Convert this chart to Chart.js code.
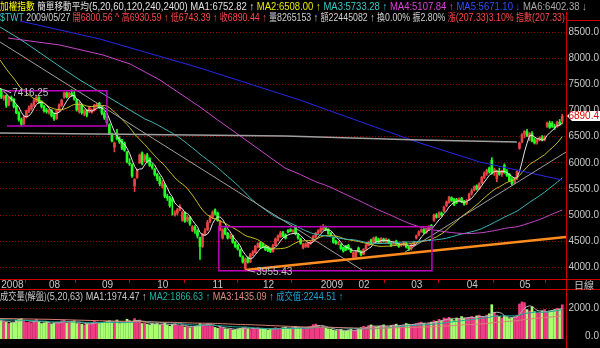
<!DOCTYPE html>
<html><head><meta charset="utf-8">
<script src="https://cdn.jsdelivr.net/npm/chart.js@4"></script>
<style>
html,body{margin:0;padding:0;background:#000;}
#wrap{position:relative;width:600px;height:348px;overflow:hidden;background:#000;}
canvas{position:absolute;left:0;}
.t{position:absolute;white-space:nowrap;font-family:'Liberation Sans Narrow','Liberation Sans','Noto Sans CJK TC',sans-serif;font-size:11px;line-height:11px;z-index:2;transform-origin:0 50%;}
.c{font-family:'Noto Sans CJK TC',sans-serif;font-size:10px;}
</style></head><body>
<div id="wrap">
<canvas id="main" width="600" height="290" style="top:0"></canvas>
<canvas id="vol" width="600" height="58" style="top:290px"></canvas>
<div class="t" id="h1" style="left:0;top:0px"><span class="c" style="color:#ffff00">加權指數</span> <span style="color:#e0e0e0"><span class="c">簡單移動平均</span>(5,20,60,120,240,2400)</span> <span style="color:#e0e0e0">MA1:6752.82 ↑</span> <span style="color:#e8e800">MA2:6508.00 ↑</span> <span style="color:#3cc8c8">MA3:5733.28 ↑</span> <span style="color:#e040e0">MA4:5107.84 ↑</span> <span style="color:#3050ff">MA5:5671.10 ↓</span> <span style="color:#a8a8a8">MA6:6402.38 ↓</span></div>
<div class="t" id="h2" style="left:0;top:11px"><span style="color:#3cc8c8">$TWT</span> <span style="color:#d0d0d0">2009/05/27</span> <span style="color:#ff4848"><span class="c">開</span>6800.56 ^ <span class="c">高</span>6930.59 ↑ <span class="c">低</span>6743.39 ↑ <span class="c">收</span>6890.44 ↑</span> <span style="color:#d0d0d0"><span class="c">量</span>8265153 ↑ <span class="c">額</span>22445082 ↑ <span class="c">換</span>0.00% <span class="c">振</span>2.80%</span> <span style="color:#ff4848"><span class="c">漲</span>(207.33)3.10% <span class="c">指數</span>(207.33)</span></div>
<div class="t" id="h3" style="left:0;top:290px"><span style="color:#c8c8c8"><span class="c">成交量(解盤)</span>(5,20,63)</span> <span style="color:#c8c8c8">MA1:1974.47 ↑</span> <span style="color:#20b0a0">MA2:1866.63 ↑</span> <span style="color:#e08878">MA3:1435.09 ↑</span> <span style="color:#20a0d0"><span class="c">成交值</span>:2244.51 ↑</span></div>
<div class="t" style="left:574px;top:279px;color:#c8c8c8"><span class="c">日線</span></div>
</div>
<script>
// ---- tick labels (month starts, by bar index) ----
const monthLabels = ['2008','08','09','10','11','12','2009','02','03','04','05'];
const monthStarts = [0,19,40,62,84,104,127,142,163,185,206];
const priceTicks = [4000,4500,5000,5500,6000,6500,7000,7500,8000,8500];
const volTicks = [0,2000];

// ---- daily OHLC (2008/07 .. 2009/05/27) ----
const opens = [
7410,7240,7290,7110,7250,7220,7090,6960,6830,6750,6880,6990,7040,7100,7180,7250,7170,7080,7010,
6960,7000,6910,6850,7000,7100,7260,7340,7270,7330,7300,7200,6980,7100,6940,7000,6980,6970,7010,7090,7140,
7060,6950,6840,6730,6550,6300,6560,6460,6420,6380,6200,6000,5960,5560,5720,6000,6190,6050,6150,6080,5950,5880,
5780,5700,5560,5580,5360,5330,5300,5000,5040,5100,4900,5040,4900,4950,4700,4770,4700,4560,4400,4650,4720,4880,
4960,5100,5040,4720,4560,4740,4650,4580,4600,4480,4420,4330,4200,3980,4180,4100,4240,4280,4390,4470,
4440,4400,4380,4350,4300,4420,4520,4580,4660,4620,4700,4720,4690,4780,4620,4540,4370,4400,4390,4460,4500,4580,4660,
4690,4720,4770,4720,4650,4560,4500,4460,4440,4380,4400,4420,4350,4200,4200,
4370,4300,4250,4350,4420,4520,4480,4560,4540,4480,4540,4480,4520,4460,4440,4500,4450,4420,4420,4460,4380,
4360,4420,4560,4620,4690,4720,4670,4720,4800,4900,5000,4960,5040,5080,5180,5240,5330,5300,5300,5260,5320,5260,
5220,5290,5420,5480,5560,5500,5620,5720,5800,5900,6050,5820,5700,5840,5780,5950,5830,5780,5680,5620,5700,
6280,6400,6550,6600,6500,6560,6440,6400,6440,6480,6440,6700,6760,6760,6700,6690,6780,6800.56];
const highs = [
7416.25,7300,7300,7270,7280,7230,7110,6980,6860,6900,7010,7090,7140,7220,7290,7270,7190,7100,7040,
7030,7020,6960,7020,7130,7220,7360,7360,7350,7400,7380,7220,7170,7130,7020,7020,7080,7030,7120,7140,7160,
7080,6980,6880,6750,6570,6400,6640,6500,6450,6400,6220,6080,5980,5700,5880,6170,6210,6160,6180,6100,5980,5900,
5800,5740,5660,5600,5400,5360,5340,5080,5130,5200,5080,5060,4990,4970,4800,4800,4720,4580,4650,4740,4900,5000,
5080,5120,5060,4900,4740,4760,4670,4630,4610,4500,4440,4350,4220,4180,4200,4270,4320,4420,4470,4490,
4470,4420,4400,4360,4440,4560,4620,4690,4690,4640,4720,4740,4720,4800,4640,4560,4460,4470,4480,4500,4610,4670,4720,
4790,4820,4790,4740,4670,4580,4520,4500,4450,4390,4420,4440,4370,4300,4320,
4390,4320,4360,4440,4500,4540,4580,4590,4560,4570,4560,4560,4540,4480,4500,4520,4460,4460,4490,4480,4400,
4440,4500,4620,4700,4740,4740,4740,4800,4820,5020,5030,5060,5060,5170,5270,5360,5350,5320,5320,5330,5340,5280,
5300,5420,5500,5560,5580,5620,5740,5830,5880,5920,6100,5900,5860,5900,5860,5980,5870,5800,5720,5720,5850,
6400,6560,6620,6640,6580,6600,6480,6460,6500,6520,6520,6780,6800,6790,6740,6800,6830,6930.59];
const lows = [
7230,7200,7060,7090,7180,7050,6940,6800,6710,6730,6860,6960,7010,7080,7160,7140,7050,6970,6950,
6930,6880,6810,6830,6980,7080,7240,7240,7250,7270,7200,6990,6950,6930,6900,6880,6960,6950,6990,7060,7040,
6920,6830,6740,6540,6400,6210,6440,6370,6250,6220,6000,5950,5720,5450,5700,5990,5960,6020,6000,5930,5880,5750,
5660,5560,5520,5330,5280,5150,5000,4980,5000,5080,4880,4860,4870,4800,4680,4650,4560,4150,4380,4620,4700,4850,
4930,5000,4880,4700,4540,4620,4540,4550,4460,4380,4330,4200,4080,3955.43,4080,4090,4220,4270,4370,4360,
4370,4320,4300,4280,4290,4410,4500,4570,4580,4540,4660,4680,4670,4620,4540,4440,4350,4380,4380,4440,4490,4560,4640,
4670,4710,4700,4630,4600,4460,4440,4430,4340,4290,4320,4340,4280,4180,4190,
4290,4220,4240,4340,4410,4440,4470,4480,4460,4470,4480,4470,4450,4400,4430,4430,4380,4400,4410,4370,4320,
4330,4400,4540,4600,4670,4640,4650,4700,4740,4880,4940,4950,4980,5060,5160,5230,5260,5180,5220,5250,5240,5190,
5200,5280,5380,5460,5480,5490,5600,5700,5760,5800,5780,5760,5640,5760,5740,5800,5740,5640,5570,5600,5680,
6260,6380,6480,6500,6420,6400,6360,6360,6420,6420,6420,6680,6660,6680,6640,6680,6720,6743.39];
const closes = [
7260,7270,7100,7250,7220,7080,6960,6830,6740,6880,6990,7050,7110,7190,7260,7170,7080,7000,6980,
7000,6900,6840,7000,7110,7200,7340,7260,7330,7300,7220,7020,7120,6960,7000,6910,7060,7010,7100,7120,7060,
6950,6860,6770,6560,6420,6380,6460,6400,6280,6240,6020,5980,5750,5680,5850,6150,5990,6130,6020,5950,5910,5780,
5700,5600,5620,5360,5330,5180,5260,5040,5100,5160,5050,4880,4960,4830,4780,4720,4600,4400,4630,4700,4860,4950,
5050,5040,4900,4880,4720,4640,4560,4600,4480,4400,4350,4220,4100,4150,4100,4250,4300,4400,4450,4380,
4390,4340,4320,4300,4420,4540,4600,4660,4600,4560,4680,4690,4700,4640,4560,4460,4440,4450,4470,4480,4590,4650,4700,
4740,4780,4720,4650,4620,4480,4460,4480,4360,4310,4340,4360,4300,4280,4300,
4310,4240,4340,4420,4480,4460,4560,4500,4480,4550,4500,4540,4470,4420,4480,4450,4400,4440,4470,4390,4350,
4420,4480,4600,4680,4720,4660,4720,4780,4760,5000,4960,5040,5000,5150,5250,5340,5280,5200,5240,5310,5250,5210,
5280,5400,5460,5540,5500,5600,5720,5800,5860,5830,5800,5880,5840,5780,5850,5820,5760,5660,5600,5700,5830,
6380,6540,6600,6520,6560,6420,6380,6440,6480,6450,6500,6760,6680,6700,6680,6780,6750,6890.44];
// ---- daily volume (成交值, 億) ----
const volumes = [
1100,1050,980,900,950,1000,1150,1200,1250,1050,980,1000,950,1100,1200,1000,900,950,1050,
900,850,950,1000,980,1100,1150,950,1000,1050,1100,900,950,850,800,880,900,950,1050,1000,900,
950,1000,1050,1100,1000,950,1150,900,1000,950,1200,1100,1050,1250,1000,1150,900,950,850,800,900,850,
900,800,850,950,800,700,850,900,750,700,800,650,700,600,650,700,750,900,850,800,900,850,
700,620,560,650,600,520,480,520,430,470,520,560,600,650,520,470,560,520,600,560,
520,480,430,520,560,600,520,560,600,650,520,560,600,700,600,560,520,600,650,700,820,860,740,
600,700,560,520,480,430,390,430,480,390,350,430,480,390,430,
550,600,700,650,750,800,700,650,700,750,800,700,650,750,800,850,700,750,800,900,850,
800,850,900,950,1000,900,850,950,1000,1100,1050,1200,1100,1300,1250,1350,1200,1100,1300,1250,1400,1300,
1300,1350,1400,1300,1450,1500,1400,1350,1500,1600,2250,1700,1500,1400,1300,1450,1350,1250,1300,1400,1500,
2300,2450,2400,1900,1800,2100,1750,1650,1700,1800,1900,1750,1800,1850,1900,2000,1950,2244.51];

const ma5Lead   = [[-0.5,7433],[1.5,7350],[3,7270]];
const ma20Lead  = [[-0.5,7969],[2.3,7778],[5.5,7586],[7.4,7452],[12.6,7241],[16.6,7165]];
const ma60Lead  = [[-0.5,8601],[7.4,8371],[25.3,7778],[31.3,7586],[57.1,6839]];
const ma120Lead = [[2.7,8390],[23.3,8256],[40.4,8065],[51.2,7893],[63.1,7586],[79,7069],[86.1,6820],[112.8,5901]];
const ma240Line = [[7.4,8716],[23.3,8544],[39.2,8371],[79,7816],[118.7,7203],[166.4,6380],[190.3,6016],[223,5671]];
const ma2400Line= [[-0.5,6571],[57.1,6543],[112.8,6514],[166.4,6437],[205,6399]];
const volMa5Lead  = [[-0.5,1100],[3,1050]];
const volMa20Lead = [[-0.5,1180],[10,1120],[18,1060]];
const volMa63Lead = [[-0.5,1260],[19,1200],[39,1100],[61,1010]];

// ---- drawn annotations (bar index, price) ----
const trendDown = [[-0.5,8314],[143.4,3948]];
const trendUp = [[160.5,4292],[224.5,6207]];
const trendOrange = [[97,3950],[224.5,4580]];
const box1 = {xTop:0.3, xBottom:2.3, x1:42.0, top:7381, bottom:6705};
const box2 = {x0:86.5, x1:171.2, top:4777, bottom:3934};
const highMark = {x:0, y:7416.25, text:'7416.25'};
const lowMark = {x:97, y:3955.43, text:'3955.43'};

// ---- derived ----
const N = closes.length;
const up = closes.map((c,i)=>c>=opens[i]);
const candleCol = up.map(u=>u?'#e84444':'#22ff22');
const volCol = up.map(u=>u?'#f03c82':'#a8ff70');
function sma(arr,n){const out=[];for(let i=n-1;i<arr.length;i++){let s=0;for(let k=i-n+1;k<=i;k++)s+=arr[k];out.push({x:i,y:s/n});}return out;}
const pts = a=>a.map(p=>({x:p[0],y:p[1]}));
const body = opens.map((o,i)=>({x:i,y:[o,closes[i]]}));
const wick = lows.map((l,i)=>({x:i,y:[l,highs[i]]}));
const FONT = "'Liberation Sans Narrow','Liberation Sans',sans-serif";
const line = (data,color,w)=>({type:'line',data,borderColor:color,borderWidth:w||1,pointRadius:0,tension:0,order:0,fill:false});

const annotPlugin = {
  id:'annot',
  afterDatasetsDraw(chart){
    const {ctx,chartArea:a,scales:{x,y}} = chart;
    const X=v=>x.getPixelForValue(v), Y=v=>y.getPixelForValue(v);
    ctx.save();
    ctx.beginPath();ctx.rect(a.left,a.top,a.right-a.left,a.bottom-a.top);ctx.clip();
    const seg=(p,q,col,w)=>{ctx.strokeStyle=col;ctx.lineWidth=w;ctx.beginPath();ctx.moveTo(X(p[0]),Y(p[1]));ctx.lineTo(X(q[0]),Y(q[1]));ctx.stroke();};
    seg(trendDown[0],trendDown[1],'#a0a0a0',1);
    seg(trendUp[0],trendUp[1],'#a0a0a0',1);
    seg(trendOrange[0],trendOrange[1],'#ff8c1e',2.5);
    ctx.strokeStyle='#c000c0';ctx.lineWidth=1.5;
    ctx.beginPath();
    ctx.moveTo(X(box1.xTop),Y(box1.top));ctx.lineTo(X(box1.x1),Y(box1.top));
    ctx.lineTo(X(box1.x1),Y(box1.bottom));ctx.lineTo(X(box1.xBottom),Y(box1.bottom));
    ctx.stroke();
    ctx.strokeRect(X(box2.x0),Y(box2.top),X(box2.x1)-X(box2.x0),Y(box2.bottom)-Y(box2.top));
    ctx.fillStyle='#c0c0c0';ctx.strokeStyle='#c0c0c0';ctx.lineWidth=1;
    ctx.font="10px "+FONT;ctx.textBaseline='middle';ctx.textAlign='left';
    [[highMark,4],[lowMark,2.5]].forEach(([m,dy])=>{
      const px=X(m.x),py=Y(m.y);
      ctx.beginPath();ctx.moveTo(px+2,py+0.5);ctx.lineTo(px+10,py+dy);ctx.stroke();
      ctx.fillText(m.text,px+11,py+dy);
    });
    ctx.restore();
  },
  afterDraw(chart){
    const {ctx,scales:{y}} = chart;
    ctx.save();
    ctx.strokeStyle='#c80000';ctx.lineWidth=1;
    ctx.beginPath();
    ctx.moveTo(566.5,12);ctx.lineTo(566.5,290);
    ctx.moveTo(566,20.5);ctx.lineTo(600,20.5);
    ctx.moveTo(566,279.5);ctx.lineTo(600,279.5);
    ctx.moveTo(0,289.5);ctx.lineTo(600,289.5);
    ctx.stroke();
    const last=closes[N-1], py=Math.round(y.getPixelForValue(last));
    ctx.fillStyle='#ffffff';
    ctx.beginPath();ctx.moveTo(567,py);ctx.lineTo(572,py-5);ctx.lineTo(600,py-5);ctx.lineTo(600,py+5);ctx.lineTo(572,py+5);ctx.closePath();ctx.fill();
    ctx.fillStyle='#e00000';ctx.font="10px "+FONT;ctx.textAlign='right';ctx.textBaseline='middle';
    ctx.fillText(last.toFixed(1),599,py+0.5);
    ctx.restore();
  }
};

new Chart(document.getElementById('main'),{
  data:{datasets:[
    line(pts(ma2400Line), '#a0a0a0',1.5),
    line(pts(ma240Line),'#2828e8'),
    line(pts(ma120Lead).concat(sma(closes,120)),'#c848c8'),
    line(pts(ma60Lead).concat(sma(closes,60)),'#40b8b8'),
    line(pts(ma20Lead).concat(sma(closes,20)),'#c8c020'),
    line(pts(ma5Lead).concat(sma(closes,5)),'#e6e6e6'),
    {type:'bar',data:body,backgroundColor:candleCol,barThickness:2,grouped:false,minBarLength:1,order:1},
    {type:'bar',data:wick,backgroundColor:candleCol,barThickness:1,grouped:false,order:2}
  ]},
  options:{
    responsive:false,animation:false,events:[],
    layout:{padding:{top:21,left:0,right:1,bottom:0}},
    plugins:{legend:{display:false},tooltip:{enabled:false}},
    scales:{
      x:{type:'linear',min:-0.5,max:N+0.5,offset:false,
        afterBuildTicks:s=>{s.ticks=monthStarts.map(v=>({value:v}));},
        afterFit:s=>{s.height=11;},
        ticks:{autoSkip:false,maxRotation:0,align:'start',padding:-4,color:'#c8c8c8',font:{family:FONT,size:10},
          callback:v=>monthLabels[monthStarts.indexOf(v)]},
        grid:{drawOnChartArea:false,color:'#c80000',tickLength:4},
        border:{color:'#c80000'}},
      y:{position:'right',min:3776,max:8716,
        afterBuildTicks:s=>{s.ticks=priceTicks.map(v=>({value:v}));},
        afterFit:s=>{s.width=33;},
        ticks:{crossAlign:'far',color:'#c8c8c8',font:{family:FONT,size:10},callback:v=>Number(v).toFixed(1)},
        grid:{color:'#900000',drawTicks:false},
        border:{color:'#c80000',dash:[1,2]}}
    }
  },
  plugins:[annotPlugin]
});

const volPlugin = {
  id:'volframe',
  afterDraw(chart){
    const ctx=chart.ctx;ctx.save();ctx.strokeStyle='#c80000';ctx.lineWidth=1;
    ctx.beginPath();ctx.moveTo(566.5,0);ctx.lineTo(566.5,58);ctx.stroke();ctx.restore();
  }
};
const volBase = -212;
new Chart(document.getElementById('vol'),{
  data:{datasets:[
    line(pts(volMa63Lead).concat(sma(volumes,63)),'#d88070'),
    line(pts(volMa20Lead).concat(sma(volumes,20)),'#1aa89a'),
    line(pts(volMa5Lead).concat(sma(volumes,5)),'#b4b4b4'),
    {type:'bar',data:volumes.map((v,i)=>({x:i,y:v})),backgroundColor:volCol,barThickness:2,grouped:false,base:volBase,order:1}
  ]},
  options:{
    responsive:false,animation:false,events:[],
    layout:{padding:{top:11,left:0,right:1,bottom:2}},
    plugins:{legend:{display:false},tooltip:{enabled:false}},
    scales:{
      x:{type:'linear',min:-0.5,max:N+0.5,offset:false,
        afterFit:s=>{s.height=0;},
        ticks:{display:false},grid:{display:false},border:{display:false}},
      y:{position:'right',min:volBase,max:2515,
        afterBuildTicks:s=>{s.ticks=volTicks.map(v=>({value:v}));},
        afterFit:s=>{s.width=33;},
        ticks:{crossAlign:'far',color:'#c8c8c8',font:{family:FONT,size:10},callback:v=>Number(v).toFixed(1)},
        grid:{color:c=>(c.tick&&c.tick.value===2000)?'#900000':'rgba(0,0,0,0)',drawTicks:false},
        border:{color:'#c80000',dash:[1,2]}}
    }
  },
  plugins:[volPlugin]
});

// fit header lines to the widths they occupy in the reference
[['h1',587],['h2',565],['h3',343]].forEach(([id,w])=>{
  const el=document.getElementById(id); const cw=el.scrollWidth;
  el.style.transform='scaleX('+(w/cw)+')';
});
</script>
</body></html>
